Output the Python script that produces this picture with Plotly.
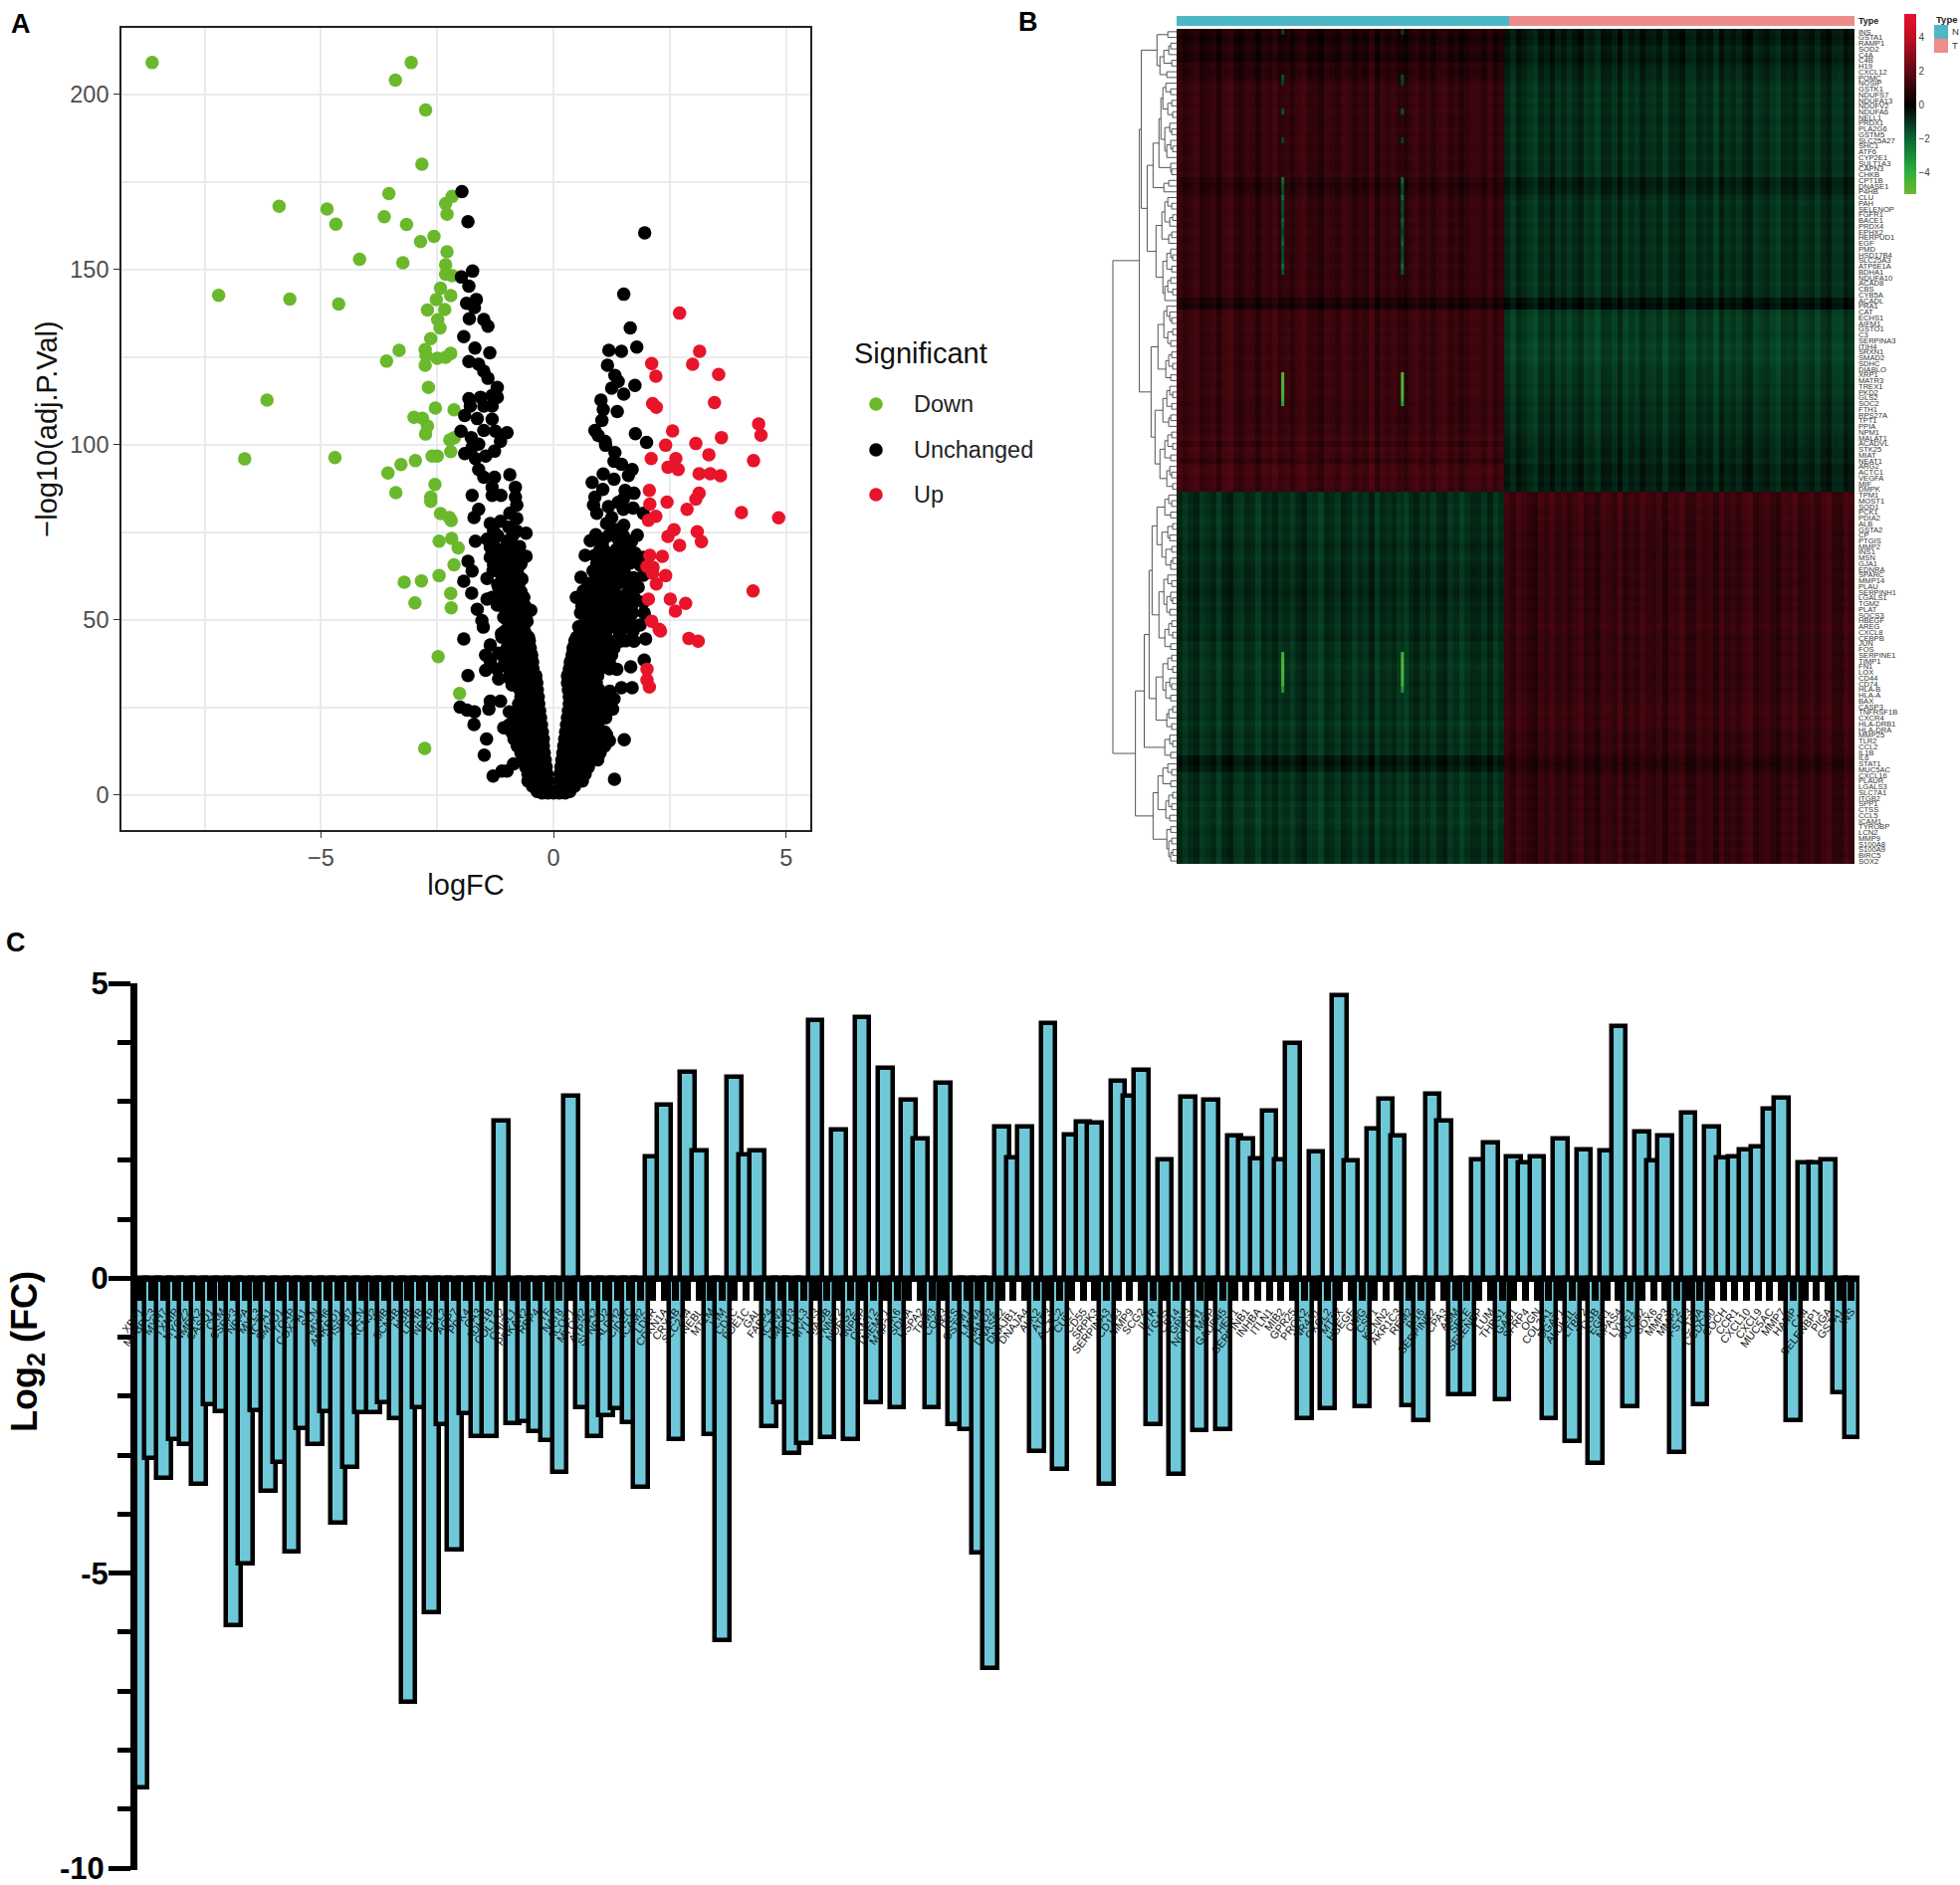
import plotly.graph_objects as go
import numpy as np

W, H = 1969, 1894
FONT = "Liberation Sans"

# ---------- Panel A: volcano ----------
down_x = [-8.63,-3.06,-3.4,-2.75,-2.83,-5.9,-4.87,-4.68,-7.2,-5.67,-4.62,-6.16,-6.64,-4.7,-4.17,
 -3.54,-2.18,-2.32,-3.64,-2.29,-3.16,-2.57,-2.86,-2.29,-3.24,-2.32,-2.32,-2.18,-2.43,-2.21,-2.52,-2.71,-2.34,-2.49,-2.44,-2.64,
 -3.32,-2.76,-2.74,-2.5,-2.32,-2.21,-3.59,-2.76,-2.69,-2.54,-2.14,-3.0,-2.82,-2.71,-2.75,-2.13,-2.23,-2.21,-2.61,-2.5,-2.97,-3.28,
 -3.56,-2.55,-3.39,-2.64,-2.64,-2.43,-2.24,-2.2,-2.46,-2.19,-2.05,-2.14,-2.46,-2.84,-3.21,-2.21,-2.98,-2.2,-2.48,-2.02,-2.77]
down_y = [209,209,204,195.5,180,168,167.2,162.9,142.6,141.5,140.1,112.7,95.9,96.3,152.9,
 171.6,170.8,168.8,165,165.7,162.8,159.4,157.9,155,151.9,151.3,148.6,148.2,144.6,142.5,141.4,138.4,138.5,135.6,133.3,130.2,
 126.9,127.1,125.4,124.6,124.9,126,123.8,122.6,116.3,110.4,109.9,107.8,107.5,105.3,103,102,101.3,98,96.7,96.7,95.4,94.3,
 91.9,88.6,86.3,85,83.8,80.3,79.2,78.3,72.4,73.2,70.5,65.7,62.6,61.1,60.7,57.5,54.8,53.4,39.5,29,13.3]

up_x = [2.71,3.14,2.11,2.99,3.55,2.2,3.46,2.13,2.21,2.56,3.61,4.41,4.46,3.06,2.41,3.34,2.1,2.63,2.46,2.68,3.13,3.37,3.59,4.3,
 2.06,3.13,3.06,2.07,2.44,2.87,4.04,4.84,2.2,2.04,2.59,2.46,3.09,3.18,2.71,2.07,2.34,2.01,2.14,2.13,2.41,2.21,4.29,2.04,2.51,
 2.84,2.62,2.11,2.27,2.91,3.11,2.01,2.01,2.06,2.3]
up_y = [137.5,126.6,123.1,122.9,120,119.5,112,111.7,110.6,103.9,102,105.9,102.7,100.3,99.8,97.1,96,96,93.5,92.9,91.7,91.7,91.1,95.4,
 86.9,86.1,84.4,83,83.6,81.5,80.6,79.1,79.5,78.4,75.7,73.8,75.1,72.3,71.2,68.4,68.1,65.2,65,63.3,62.6,60.2,58.2,55.9,55.9,
 54.7,52.5,49.6,47.3,44.7,43.9,35.9,32.8,30.8,46.8]

unchanged_x = [-1.97,-1.84,-1.74,-1.98,-1.82,-1.87,-1.66,-1.7,-1.81,-1.5,-1.41,-1.93,-1.69,-1.37,-1.82,-1.61,-1.5,-1.41,-1.21,-1.82,-1.57,-1.32,-1.21,
 -1.91,-1.79,-1.5,-1.32,-1.64,-1.32,-1.5,-1.99,-1.25,-1.0,-1.77,-1.14,-1.61,-1.75,-1.27,-1.91,-1.46,-1.68,-1.61,-0.94,-1.5,-1.27,-1.32,-0.82,-1.75,-1.32,-1.13,
 -0.82,-0.79,-1.61,-0.94,-1.71,-0.79,-1.36,-1.14,-0.96,-1.29,-0.59,-0.79,-1.68,-1.43,-1.0,-1.36,-0.73,-1.11,-1.36,-0.59,-0.86,-1.84,-1.29,-0.79,-1.75,-1.14,-1.93,
 -1.43,-0.68,-0.96,-1.18,-1.76,-0.75,-1.32,-0.64,-1.04,-0.86,-1.43,-1.21,-1.64,-0.49,-0.75,-1.07,-1.54,-1.51,-0.57,-0.82,-0.64,-1.04,-1.11,-0.86,-0.54,-1.93,-0.71,
 -1.36,-0.61,-1.46,-1.18,-0.86,-0.5,-1.36,-1.04,-1.46,-1.21,-0.86,-1.84,-1.18,-0.93,-0.89,-1.36,-1.14,-1.39,-2.01,-1.86,-1.7,-0.95,-1.71,-1.07,-1.44,-1.49,
 -1.11,-1.3,-1.0,-0.86,
 1.96,1.51,1.65,1.79,1.19,1.46,1.16,1.32,1.39,1.75,1.25,1.51,1.02,1.07,1.37,1.04,0.89,1.76,0.96,2.0,1.11,1.12,1.32,1.3,1.46,1.69,1.07,1.61,1.3,0.83,1.06,1.54,1.73,
 0.89,1.5,1.39,0.86,1.18,1.71,1.93,1.5,0.93,1.25,1.51,1.14,1.32,1.8,0.91,0.79,1.39,1.68,1.5,1.0,0.68,0.89,1.21,1.53,1.75,1.93,0.93,1.36,1.64,1.86,0.93,1.21,1.53,1.93,
 0.59,1.71,0.79,1.07,1.39,1.82,0.64,0.93,1.21,1.54,0.49,0.79,1.07,1.36,1.93,1.68,0.61,0.89,1.21,1.5,1.95,0.68,1.0,1.32,1.64,1.86,0.57,0.86,1.14,1.46,1.71,0.5,0.79,
 1.07,1.43,1.98,1.73,1.95,1.66,1.36,1.69,1.46,1.21,1.3,1.14,1.27,1.14,1.52,1.2,1.31,1.08]
unchanged_y = [172.2,163.6,149.5,147.8,145.2,140.3,141.4,139.1,135.9,135.7,133.8,130.8,127.5,126.2,123.7,122.9,120.9,118.9,116.3,113.1,113.5,114,113.5,
 108.3,111,111,111,107.4,107.2,104,103.8,103.8,103.4,102,100.9,100.1,99.2,98.1,97.4,96.7,96,92.9,91.4,90.7,90.7,87.8,87.8,85.5,85.5,85.5,
 85,82.7,81.5,80.4,79.2,78.9,77.5,78.1,76.4,75.3,74.7,75.3,72.4,73,72.4,70.7,70.9,69,67.8,68.1,67.3,66.7,65.6,65,63.9,63.3,61,
 61.8,61.6,60.4,59.3,57.6,58.2,56.4,56.4,55.9,54.7,55.9,54.2,53,52.7,51.9,50.7,49.8,47.9,49.6,48.5,47.3,46.8,45,45.6,45,44.5,43.9,
 42.8,42.2,39.9,40.5,41,40.5,38.2,38.8,35.6,35.9,35.9,34.1,33.1,33.1,31.4,26.8,26.8,24.5,25.1,24.2,23.7,23.7,20.1,19.2,16,11.4,
 6.8,5.4,6.8,8.9,
 160.4,142.9,133.3,127.8,126.9,126.6,122.6,119.7,118,116.9,116.1,114.4,112.7,110,109.4,106.9,104,103.1,102.6,100.6,100.9,99.8,97.7,95.2,94.4,92.9,91.6,91.2,90.1,89.2,87.2,86.9,86.1,
 85,84.4,83.5,82.7,82.3,81.9,80.4,81.5,80.4,79.2,77,77.5,75.8,74.1,74.3,72.6,73,72.4,71.3,70.1,68.4,68.4,68.4,68.4,69,67.8,66.1,65.6,66.1,65.6,63.9,63.3,63.3,62.7,
 62.1,61.6,60.4,61,60.4,59.3,58.2,58.2,58.2,57,56.4,55.9,55.3,54.7,55,54.2,53.8,53,52.5,51.9,51.9,50.7,50.2,49.6,50.2,48.5,47.3,47.3,47.3,47.3,46.8,45,44.5,
 44.5,43.9,44.5,43.9,38.5,36.6,35.9,30.6,30.6,29.6,27.4,25.1,24.5,17.2,15.8,15.5,4.5]

# levels of the densely packed lower part of the V: logFC values read per -log10 level
dense_levels = [0.6,1,2.5,4,6,8,10,12,14,16,18,20,22,24,26,28,30,32,34,36,38,40,42,44,46,48,50,52,54,56,58,60,62,64,66,68,70,72,74]
dense_logfc = [
 [-.25,-.12,0,.12,.25],[-.35,-.2,-.05,.1,.25,.35],[-.45,-.3,-.15,.15,.3,.45],[-.55,-.4,-.25,-.12,.12,.25,.4,.55,.62],
 [-.55,-.42,-.28,-.14,.14,.28,.42,.58,.68],[-.6,-.45,-.3,-.16,.16,.3,.45,.6,.75],[-.65,-.5,-.35,-.18,.18,.33,.48,.63,.8,.95],
 [-.7,-.55,-.38,-.2,.2,.35,.5,.65,.8,1.0],[-.78,-.6,-.42,-.22,.22,.37,.52,.68,.85,1.1],[-.85,-.68,-.5,-.33,-.22,.24,.4,.55,.7,.85,1.05],
 [-.9,-.72,-.55,-.38,-.24,.26,.42,.58,.74,.9,1.1],[-.95,-.78,-.6,-.42,-.26,.28,.44,.6,.76,.95],[-.8,-.62,-.45,-.28,.3,.46,.62,.78,1.0,1.12],
 [-.7,-.55,-.42,-.3,.32,.48,.64,.8,1.02],[-.75,-.6,-.45,-.32,.34,.5,.66,.82,1.0],[-.7,-.55,-.42,-.33,.34,.5,.66,.84,1.0,1.15],
 [-.72,-.58,-.45,-.35,.32,.48,.64,.8,.98],[-.8,-.65,-.5,-.36,.3,.46,.62,.78,.92],[-.95,-.78,-.6,-.45,-.38,.3,.46,.62,.78,.95],
 [-.95,-.75,-.6,-.44,.34,.5,.66,.82,1.0,1.2],[-1.05,-.85,-.7,-.55,-.45,.36,.55,.75,.95,1.2],[-1.1,-.9,-.72,-.55,-.47,.4,.6,.8,1.02,1.25],
 [-1.0,-.82,-.65,-.5,.42,.65,.9,1.08,1.3],[-.95,-.7,-.52,.46,.7,.95,1.2,1.55],[-1.12,-.82,-.6,.62,.92,1.12,1.42],[-.95,-.7,.54,.8,1.05,1.3,1.6],
 [-1.0,-.8,-.6,.7,.95,1.25,1.5],[-.9,-.65,.58,.85,1.1,1.4,1.7],[-1.1,-.85,-.62,.72,.98,1.28,1.58],[-1.25,-1,-.75,.6,.88,1.15,1.45,1.75],
 [-1.12,-.88,-.7,.78,1.02,1.3,1.62],[-1.2,-.95,-.75,.75,1.0,1.25,1.6],[-1.05,-.85,-.72,.92,1.18,1.42,1.72],[-1.3,-1.05,-.78,.85,1.15,1.45],
 [-1.15,-.9,-.7,1.0,1.25,1.55],[-1.25,-.95,-.75,.95,1.3,1.7],[-1.1,-.85,1.08,1.35,1.6],[-1.3,-.95,1.05,1.45],[-1.2,-.88,1.18,1.5]]
n_u = min(len(unchanged_x), len(unchanged_y))
unchanged_x, unchanged_y = unchanged_x[:n_u], unchanged_y[:n_u]
for lev, xs in zip(dense_levels, dense_logfc):
    unchanged_x += xs
    unchanged_y += [lev] * len(xs)

legend_labels = ["Down", "Unchanged", "Up"]
legend_colors = ["#6ab92d", "#000000", "#e8142a"]

# ---------- Panel B: heatmap ----------
row_genes = ["INS","GSTA1","RAMP1","SOD2","C4A","C4B","H19","CXCL12","POMC","NOSIP","GSTK1","NDUFS7","NDUFA13","NDUFV2","NDUFA6","NELL1","PRDX1","PLA2G6","GSTM5","SLC25A27",
 "SHC1","ATF6","CYP2E1","SULT1A3","CAPN3","CHKB","CPT1B","DNASE1","P4HB","CLU","PAH","SELENOP","FGFR1","BACE1","PRDX4","EPHX2","HERPUD1","EGF","PMD","HSD17B4",
 "SLC25A3","ATP6E1A","BDHA1","NDUFA10","ACAD8","CBS","CYB5A","ACADL","PRA1","CAT","ECHS1","AIFM1","GSTO1","C3","SERPINA3","ITIH4","SRXN1","SMAD2","SDHC","DIABLO",
 "XRP1","MATR3","TREX1","PKD2","GLS2","SOC2","FTH1","RPS27A","TPT1","PPIA","NPM1","MALAT1","ACADVL","STK25","MIAT","NEAT1","ARG2","ACTC1","VEGFA","MIF",
 "DMPK","TPM1","MOST1","SOD1","PCK1","PDIA2","ALB","GSTA2","CP","PTGIS","MMP2","INS1","MSN","GJA1","EDNRA","SPARC","MMP14","PLAU","SERPINH1","LGALS1",
 "TGM2","PLAT","SOCS3","HBEGF","AREG","CXCL8","CEBPB","JUN","FOS","SERPINE1","TIMP1","FN1","LOX","CD44","CD74","HLA-B","HLA-A","BAX","CASP3","TNFRSF1B",
 "CXCR4","HLA-DRB1","HLA-DRA","MMP25","TLR2","CCL2","IL1B","IL6","STAT1","MUC5AC","CXCL16","PLAUR","LGALS3","SLC7A1","ITGB2","SPP1","CTSS","CCL5","ICAM1","TYROBP",
 "LCN2","MMP9","S100A8","S100A9","BIRC5","SOX2"]

# mean scaled expression per gene (row) in the normal and tumour blocks
rows_n = [0.6,0.4,0.5,0.7,0.5,0.5,0.8,0.7,0.8,
 1.0,1.1,1.0,1.1,1.0,1.1,1.0,1.0,1.1,1.0,1.1,1.0,1.0,1.1,1.0,1.0,1.1,
 0.8,0.7,0.8,
 1.0,1.1,1.0,1.0,1.1,1.0,1.1,1.0,1.0,1.1,1.0,1.0,1.1,1.0,1.0,1.1,1.0,1.0,
 0.6,0.5,
 1.1,1.2,1.1,1.2,1.1,1.2,1.1,1.1,1.2,1.1,1.1,1.2,1.1,1.1,1.2,1.1,
 1.0,1.1,1.1,1.0,1.2,1.1,1.3,1.0,1.3,1.2,1.0,1.3,1.4,1.2,1.3,1.2,
 -0.9,-0.9,-1.0,-0.9,-1.0,-1.0,-0.9,-1.0,-0.9,-0.8,-0.9,-1.0,-0.9,-0.8,-0.8,-0.9,-0.8,-0.7,-0.8,-0.9,-0.8,-0.9,-0.9,-1.0,-0.9,-0.8,-1.0,-1.0,-0.9,-1.0,
 -1.1,-1.0,-1.0,-0.9,-1.0,-1.0,-0.9,-1.0,-1.0,-0.9,-1.1,-1.0,-0.9,-1.0,-0.9,-1.0,-0.5,-0.4,-0.6,-1.0,-0.9,-1.0,-1.0,-0.9,-1.1,-1.0,-1.0,-1.1,-1.0,-0.9,-1.0,-1.0,-0.9,-0.9,-1.0]
rows_t = [-0.5,-0.4,-0.5,-0.7,-0.6,-0.5,-0.7,-0.8,-0.8,
 -0.9,-1.0,-0.9,-1.0,-0.9,-1.0,-0.9,-0.9,-1.0,-0.9,-1.0,-0.9,-0.9,-1.0,-0.9,-0.9,-1.0,
 -0.6,-0.6,-0.7,
 -0.9,-1.0,-0.9,-0.9,-1.0,-0.9,-1.0,-0.9,-0.9,-1.0,-0.9,-0.9,-1.0,-0.9,-0.9,-1.0,-0.9,-0.9,
 -0.4,-0.3,
 -1.1,-1.2,-1.2,-1.2,-1.1,-1.2,-1.3,-1.2,-1.3,-1.2,-1.1,-1.1,-1.1,-1.0,-1.1,-1.0,
 -0.9,-1.0,-0.9,-0.9,-1.0,-0.9,-0.8,-0.8,-0.7,-0.7,-0.8,-0.6,-0.6,-0.7,-0.6,-0.7,
 1.2,1.3,1.2,1.1,1.2,1.1,1.1,1.0,1.1,1.1,1.0,1.0,1.1,1.0,1.1,1.0,1.0,1.1,1.0,1.1,1.0,1.1,1.1,1.2,1.1,1.0,1.1,1.1,1.0,1.1,
 1.1,1.0,1.0,1.1,1.0,1.1,1.1,1.2,1.2,1.1,1.2,1.1,1.0,1.0,1.1,1.0,0.8,0.7,0.8,1.0,1.1,1.0,1.1,1.0,1.1,1.0,1.1,1.0,1.1,1.0,1.1,1.0,1.1,1.0,1.1]
# vertical streak pattern read across the columns of each block
streak_n = [.2,-.15,.1,.3,-.2,0,.15,-.3,.2,.35,-.1,-.2,.15,.1,-.3,.2,0,.3,-.15,.1,-.2,.15,.35,-.1,0,-.35,.2,.1,-.15,.3,
 .15,-.2,.1,-.1,.35,-.3,.15,0,.2,-.15,-.3,.1,.3,-.1,.15,-.2,.2,.35,-.15,.1,-.3,0,.2,.15,-.1,.3,-.2,.1]
streak_t = [.15,-.2,.3,.1,-.15,-.3,.2,0,.35,-.1,.15,-.2,.1,.3,-.15,0,-.3,.2,.15,-.1,.35,-.2,.1,-.15,.3,0,-.1,.2,-.3,.15,
 .1,.35,-.15,-.2,.2,0,.15,-.3,.3,-.1,.1,-.15,.2,.35,-.2,0,.15,-.1,-.3,.2,.1,.3,-.15,0,.2,-.2,.15,.35,-.1,-.15,.3,.1]
# the two outlying samples (columns), gene by gene
outlier_rows = [0,8,9,14,19,26,27,28,29,30,31,32,33,34,35,36,37,38,39,40,41,42,60,61,62,63,64,65,109,110,111,112,113,114,115]
outlier_vals = [-1.2,-1.5,-1.2,-1.6,-1.3,-2.2,-1.6,-1.4,-2.2,-1.5,-1.6,-1.4,-2.0,-1.6,-1.3,-1.6,-2.0,-1.5,-1.4,-1.6,-2.2,-1.6,
 -4.6,-4.8,-4.8,-4.6,-4.4,-3.6,-4.2,-4.6,-4.8,-4.8,-4.6,-4.2,-3.2]
n_cols_n, n_cols_t = 262, 282   # samples shown in each block
sample_groups = ["N", "T"]
sample_group_sizes = [267, 277]
outlier_columns = [84, 180]
# heights at which neighbouring genes join in the dendrogram
dendro_gaps = [9,20,6,8,13,5,17,10,36,11,6,14,5,9,4,16,7,5,12,6,4,10,18,6,5,
 24,8,13,30,9,5,12,4,7,15,5,8,21,6,4,10,5,14,6,9,4,12,38,10,7,
 5,13,4,9,6,19,5,8,4,11,6,26,7,4,10,5,14,6,8,22,5,9,4,12,6,17,7,5,10,4,
 65,8,5,12,6,20,4,9,7,15,5,11,4,6,25,9,5,13,6,4,10,7,18,5,8,4,12,6,28,5,9,4,
 14,7,5,11,6,21,4,8,10,5,33,7,4,12,6,42,9,5,14,6,19,4,8,5,11,7,24,6,10,5,8,4,6]

# ---------- Panel C: bars ----------
bar_genes = ["XBP1","MYBPC3","MYH7","TXNIP","MYOZ2","NMRK2","CASQ1","CKM","CSRP3","NPPA","MYL3","ACTA1","SMYD1","TCAP","COX7A1","SLN","MYH6","ANKRD1","HSPB7","PLN",
 "KCNJ2","MB","SCN4B","HBB","LDHB","NRAP","FHL2","AQP7","PDK4","CA3","ADH1B","COL1A2","CHI3L1","PRKAR2","RBP4","TF","NAT8","ACOT1","MYOM2","ATP2A2",
 "SYNPO2","ALDH2","CIDEC","ICAM2","LDLR","CDKN1A","CRYAB","SLC2A4","NEBL","MT1M","VIM","CD1C","PDE1C","GAL","FABP4","ACTN2","LMOD3","KLHL3","MYLK3","MAOB",
 "TNNT2","NDRG2","ANPEP","CKMT2","TMEM71","MAP2K6","SDHA","HSPA2","TPM3","COQ3","DES","GSTM1","LMNA","HAND2","DNASE2","DNAJB1","DNAJA4","ALK2","ATF3","ACTC2",
 "CUL7","CD55","SRPK3","SERPINA3","CD163","MMP9","SCG2","IL7R","ITGA5","CD14","GPX3","NOTCH1","MGP","GADD45","HEY1","SERPINB1","INHBA","ITLN1","MIB2","GPR25",
 "PROK2","NR4A1","CXCL2","MT1X","HBEGF","OMG","CSF1","KCNN2","AKR1C3","REM2","PI16","SERPINE2","CPA3","ADM","SELE","SELENBP","LUM","THBS1","GAS1","SFRP4",
 "OGN","COL3A1","DGAT1","ALDH1L","LTBP2","FOSB","EGR1","NPAS4","LYVE1","SOCS2","SOX6","MMP3","MMP2","FSTL3","C1QA","CCDC80","COCH","CCR1","CXCL10","CXCL9",
 "MUC5AC","MMP7","HAMP","CA4","SELENBP1","PIGA","GSTA1","INS"]
bar_values = [-8.63,-3.04,-3.39,-2.73,-2.82,-3.49,-2.13,-2.25,-5.88,-4.84,-2.23,-3.6,-3.12,-4.63,-2.54,-2.82,-2.25,-4.15,-3.2,-2.27,
 -2.27,-2.1,-2.38,-7.19,-2.18,-5.67,-2.48,-4.6,-2.29,-2.67,-2.67,2.67,-2.45,-2.42,-2.6,-2.74,-3.28,3.1,-2.19,-2.67,
 -2.33,-2.21,-2.44,-3.54,2.07,2.94,-2.73,3.5,2.16,-2.65,-6.13,3.42,2.1,2.17,-2.51,-2.11,-2.96,-2.79,4.37,-2.69,
 2.52,-2.72,4.42,-2.1,3.57,-2.18,3.02,2.37,-2.18,3.32,-2.47,-2.56,-4.65,-6.6,2.57,2.05,2.57,-2.93,4.33,-3.24,
 2.43,2.66,2.64,-3.49,3.34,3.09,3.53,-2.47,2.02,-3.32,3.08,-2.57,3.02,-2.56,2.42,2.37,2.03,2.84,2.02,3.99,
 -2.37,2.15,-2.2,4.8,1.99,-2.17,2.54,3.04,2.42,-2.15,-2.41,3.13,2.67,-1.97,-1.97,2.02,2.3,-2.06,2.07,1.96,
 2.07,-2.38,2.37,-2.76,2.18,-3.13,2.16,4.28,-2.17,2.49,1.99,2.42,-2.94,2.8,-2.13,2.57,2.04,2.07,2.18,2.23,
 2.88,3.06,-2.4,1.96,1.97,2.02,-1.94,-2.7]
bar_positions = list(range(len(bar_values)))
major_ticks = [-10, -5, 0, 5]
major_tick_text = ["", "-5", "0", "5"]
minor_ticks = [-9, -8, -7, -6, -4, -3, -2, -1, 1, 2, 3, 4]

assert len(bar_genes) == len(bar_values), (len(bar_genes), len(bar_values))
assert len(rows_n) == len(row_genes) and len(rows_t) == len(row_genes), (len(rows_n), len(rows_t), len(row_genes))
assert len(dendro_gaps) >= len(row_genes) - 1, len(dendro_gaps)

# ---------- helpers ----------
def px_x(a, b):
    return [a / W, b / W]
def px_y(top, bottom):
    return [1 - bottom / H, 1 - top / H]

fig = go.Figure()

# volcano
for name, xs, ys, col in zip(legend_labels, [down_x, unchanged_x, up_x], [down_y, unchanged_y, up_y], legend_colors):
    fig.add_trace(go.Scatter(x=xs, y=ys, mode="markers", name=name, showlegend=False, xaxis="x", yaxis="y",
                             marker=dict(color=col, size=13.5, line=dict(width=0))))

# heatmap
nr = len(row_genes)
z = []
for r in range(nr):
    z.append([rows_n[r] + s for s in streak_n] + [rows_t[r] + s for s in streak_t])
edges = list(np.linspace(0, n_cols_n, len(streak_n) + 1)) + list(np.linspace(n_cols_n, n_cols_n + n_cols_t, len(streak_t) + 1))[1:]
CS = [[0, "rgb(108,185,47)"], [1.3/10.7, "rgb(46,175,60)"], [3.3/10.7, "rgb(10,100,55)"], [5.3/10.7, "rgb(0,0,0)"],
      [7.3/10.7, "rgb(95,8,20)"], [9.3/10.7, "rgb(190,15,35)"], [1, "rgb(232,17,45)"]]
fig.add_trace(go.Heatmap(z=z, x=edges, y=list(range(nr)), xaxis="x2", yaxis="y2", zmin=-5.3, zmax=5.4, colorscale=CS,
                         hoverinfo="skip",
                         colorbar=dict(x=1913 / W, xanchor="left", y=1 - 104.5 / H, yanchor="middle", lenmode="pixels", len=181,
                                       thicknessmode="pixels", thickness=12, outlinewidth=0, xpad=0, ypad=0, ticks="", ticklabelposition="outside",
                                       tickvals=[-4, -2, 0, 2, 4], ticktext=["\u22124", "\u22122", "0", "2", "4"],
                                       tickfont=dict(size=10, color="#444", family=FONT))))
for c in outlier_columns:
    col_vals = [rows_n[r] for r in range(nr)]
    for r, v in zip(outlier_rows, outlier_vals):
        col_vals[r] = v
    fig.add_trace(go.Heatmap(z=[[v] for v in col_vals], x=[c, c + 2.2], y=list(range(nr)), xaxis="x2", yaxis="y2",
                             zmin=-5.3, zmax=5.4, colorscale=CS, showscale=False, hoverinfo="skip"))

# sample-type strip
strip_edges = [0, sample_group_sizes[0], sum(sample_group_sizes)]
fig.add_trace(go.Heatmap(z=[[0, 1]], x=strip_edges, y=["Type"], xaxis="x3", yaxis="y3", zmin=0, zmax=1, showscale=False,
                         colorscale=[[0, "#4db7c7"], [0.5, "#4db7c7"], [0.5, "#ee8c8c"], [1, "#ee8c8c"]], hoverinfo="skip"))

# dendrogram from neighbour-join heights
dx, dy = [], []
def build(a, b):
    if a == b:
        return 0.0, float(a)
    seg = dendro_gaps[a:b]
    k = a + int(np.argmax(seg))
    h = dendro_gaps[k]
    hl, pl = build(a, k)
    hr, pr = build(k + 1, b)
    dx.extend([hl, h, h, hr, None])
    dy.extend([pl, pl, pr, pr, None])
    return float(h), (pl + pr) / 2
build(0, nr - 1)
fig.add_trace(go.Scatter(x=dx, y=dy, mode="lines", xaxis="x4", yaxis="y4", showlegend=False, hoverinfo="skip",
                         line=dict(color="#555555", width=1)))

# bars
fig.add_trace(go.Bar(x=bar_positions, y=bar_values, width=1.25, xaxis="x5", yaxis="y5", showlegend=False,
                     marker=dict(color="#6fc8d8", line=dict(color="#000000", width=4.5))))

tick_font = dict(family=FONT, size=23.5, color="#4d4d4d")
grid = "#ebebeb"
layout = dict(
    width=W, height=H, margin=dict(l=0, r=0, t=0, b=0), paper_bgcolor="white", plot_bgcolor="white",
    font=dict(family=FONT), showlegend=False, bargap=0,
    xaxis=dict(domain=px_x(122, 814), range=[-9.29, 5.52], tickmode="array", tickvals=[-5, 0, 5], ticktext=["\u22125", "0", "5"],
               showgrid=True, gridcolor=grid, gridwidth=2, zeroline=False, showline=True, mirror=True, linecolor="#222", linewidth=1.6,
               ticks="outside", ticklen=6, tickwidth=1.4, tickcolor="#333", tickfont=tick_font, anchor="y", automargin=False,
               minor=dict(tickmode="array", tickvals=[-7.5, -2.5, 2.5], showgrid=True, gridcolor=grid, gridwidth=2, ticks=""),
               title=dict(text="logFC", font=dict(family=FONT, size=29, color="#111"), standoff=5)),
    yaxis=dict(domain=px_y(28, 834), range=[-10, 218.9], tickmode="array", tickvals=[0, 50, 100, 150, 200],
               showgrid=True, gridcolor=grid, gridwidth=2, zeroline=False, showline=True, mirror=True, linecolor="#222", linewidth=1.6,
               ticks="outside", ticklen=6, tickwidth=1.4, tickcolor="#333", tickfont=tick_font, anchor="x", automargin=False,
               minor=dict(tickmode="array", tickvals=[25, 75, 125, 175], showgrid=True, gridcolor=grid, gridwidth=2, ticks=""),
               title=dict(text="\u2212log10(adj.P.Val)", font=dict(family=FONT, size=29, color="#111"), standoff=4)),
    xaxis2=dict(domain=px_x(1182, 1863), range=[0, 544], visible=False, anchor="y2"),
    yaxis2=dict(domain=px_y(29, 868), range=[nr - 0.5, -0.5], anchor="x2", side="right", showgrid=False, zeroline=False, showline=False,
                tickmode="array", tickvals=list(range(nr)), ticktext=row_genes, ticks="", automargin=False, ticklabelstandoff=3,
                tickfont=dict(family=FONT, size=7.6, color="#333")),
    xaxis3=dict(domain=px_x(1182, 1863), range=[0, 544], visible=False, anchor="y3"),
    yaxis3=dict(domain=px_y(16, 26), anchor="x3", side="right", showgrid=False, zeroline=False, showline=False, ticks="", automargin=False,
                tickmode="array", tickvals=["Type"], ticktext=["<b>Type</b>"], ticklabelstandoff=3, tickfont=dict(family=FONT, size=9, color="#222")),
    xaxis4=dict(domain=px_x(1117, 1182), range=[66, 0], visible=False, anchor="y4"),
    yaxis4=dict(domain=px_y(29, 868), range=[nr - 0.5, -0.5], visible=False, anchor="x4"),
    xaxis5=dict(domain=px_x(134, 1868), range=[-7 / 11.69, 147.7], anchor="free", position=1 - 1285 / H, side="bottom",
                showgrid=False, zeroline=False, showline=True, linecolor="#000", linewidth=5,
                tickmode="array", tickvals=bar_positions, ticktext=bar_genes, tickangle=-52, ticks="outside", ticklen=19, tickwidth=7,
                tickcolor="#000", tickfont=dict(family=FONT, size=11, color="#111"), automargin=False),
    yaxis5=dict(domain=px_y(988, 1878.8), range=[-10.03, 5], anchor="free", position=134 / W, showgrid=False, zeroline=False, showline=True,
                linecolor="#000", linewidth=7, tickmode="array", tickvals=major_ticks, ticktext=major_tick_text,
                ticks="outside", ticklen=22, tickwidth=5, tickcolor="#000", ticklabelstandoff=-6,
                minor=dict(tickmode="array", tickvals=minor_ticks, ticks="outside", ticklen=13, tickwidth=5, tickcolor="#000", showgrid=False),
                tickfont=dict(family=FONT, size=31, color="#000", weight="bold"), automargin=False),
)

ann = [
    dict(text="<b>A</b>", x=21, y=24),
    dict(text="<b>B</b>", x=1033, y=22),
    dict(text="<b>C</b>", x=16, y=947),
]
annotations = [dict(xref="paper", yref="paper", x=a["x"] / W, y=1 - a["y"] / H, text=a["text"], showarrow=False, xanchor="center",
                    yanchor="middle", font=dict(family=FONT, size=27, color="#000")) for a in ann]
annotations.append(dict(xref="paper", yref="paper", x=27 / W, y=1 - 1358 / H, text="<b>Log<sub>2</sub> (FC)</b>", textangle=-90, showarrow=False,
                        xanchor="center", yanchor="middle", font=dict(family=FONT, size=36, color="#000")))
annotations.append(dict(xref="x5", yref="y5", x=-10, y=-10, xshift=0, text="<b>-10</b>", showarrow=False, visible=False))
annotations[-1] = dict(xref="paper", yref="paper", x=107 / W, y=1 - 1877 / H, text="<b>-10</b>", showarrow=False, xanchor="right", yanchor="middle",
                       font=dict(family=FONT, size=31, color="#000"))
annotations.append(dict(xref="paper", yref="paper", x=855.5 / W, y=1 - 355 / H, text="Significant", showarrow=False, xanchor="left",
                        yanchor="middle", font=dict(family=FONT, size=29, color="#111")))
shapes = []
for lab, col, ypx in zip(legend_labels, legend_colors, [406, 452, 497]):
    annotations.append(dict(xref="paper", yref="paper", x=915.5 / W, y=1 - ypx / H, text=lab, showarrow=False, xanchor="left",
                            yanchor="middle", font=dict(family=FONT, size=23.5, color="#222")))
    r = 6.8
    shapes.append(dict(type="circle", xref="paper", yref="paper", x0=(880 - r) / W, x1=(880 + r) / W, y0=1 - (ypx + r) / H, y1=1 - (ypx - r) / H,
                       fillcolor=col, line=dict(width=0)))
# type legend
annotations.append(dict(xref="paper", yref="paper", x=1943 / W, y=1 - 19 / H, text="<b>Type</b>", showarrow=False, xanchor="left", yanchor="middle",
                        font=dict(family=FONT, size=9.5, color="#222")))
for lab, col, top in zip(sample_groups, ["#4db7c7", "#ee8c8c"], [25, 39]):
    shapes.append(dict(type="rect", xref="paper", yref="paper", x0=1943 / W, x1=1957 / W, y0=1 - (top + 14) / H, y1=1 - top / H,
                       fillcolor=col, line=dict(width=0)))
    annotations.append(dict(xref="paper", yref="paper", x=1959 / W, y=1 - (top + 7) / H, text=lab, showarrow=False, xanchor="left", yanchor="middle",
                            font=dict(family=FONT, size=9.5, color="#333")))
layout["annotations"] = annotations
layout["shapes"] = shapes
fig.update_layout(**layout)
fig.write_html("out.html", post_script="document.body.style.margin='0';document.body.style.overflow='hidden';",
               config={"responsive": False, "displayModeBar": False})
